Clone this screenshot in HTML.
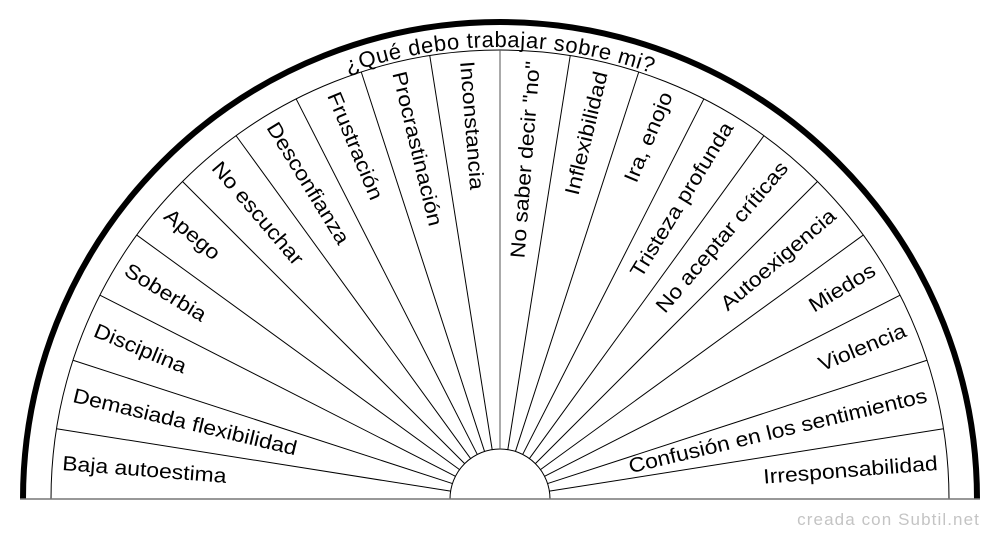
<!DOCTYPE html>
<html><head><meta charset="utf-8"><style>
body{margin:0;background:#fff;width:1000px;height:540px;overflow:hidden}
svg{display:block;font-family:"Liberation Sans",sans-serif}
</style></head><body>
<svg id="s" width="1000" height="540" viewBox="0 0 1000 540">
<defs><path id="tp" d="M 48 499 A 452 452 0 0 1 952 499"/></defs>
<path d="M 23 499 A 477 477 0 0 1 977 499" fill="none" stroke="#000" stroke-width="6"/>
<path d="M 51 499 A 449 449 0 0 1 949 499" fill="none" stroke="#000" stroke-width="1"/>
<path d="M 450 499 A 50 50 0 0 1 550 499" fill="none" stroke="#000" stroke-width="1"/>
<line x1="20" y1="499" x2="980" y2="499" stroke="#777" stroke-width="1.5"/>
<text font-size="22" letter-spacing="0.6" text-anchor="middle"><textPath href="#tp" startOffset="50%">¿Qué debo trabajar sobre mi?</textPath></text>
<g id="g"></g>
<text x="980" y="525" font-size="17" letter-spacing="1.1" fill="#c4c4c4" text-anchor="end">creada con Subtil.net</text>
</svg>
<script>
var L=["Baja autoestima","Demasiada flexibilidad","Disciplina","Soberbia","Apego","No escuchar","Desconfianza","Frustración","Procrastinación","Inconstancia","No saber decir \"no\"","Inflexibilidad","Ira, enojo","Tristeza profunda","No aceptar críticas","Autoexigencia","Miedos","Violencia","Confusión en los sentimientos","Irresponsabilidad"];
var cx=500,cy=499,h="";
for(var i=1;i<20;i++){var a=i*9*Math.PI/180;
h+='<line x1="'+(cx-50*Math.cos(a))+'" y1="'+(cy-50*Math.sin(a))+'" x2="'+(cx-449*Math.cos(a))+'" y2="'+(cy-449*Math.sin(a))+'" stroke="'+(i==10?'#555':'#000')+'" stroke-width="1"/>';}
for(var i=0;i<20;i++){var t=4.5+9*i,a=t*Math.PI/180,r=439;
var x=cx-r*Math.cos(a),y=cy-r*Math.sin(a),rot,anc;
if(i<10){rot=t;anc="start";}else{rot=t-180;anc="end";}
h+='<g transform="translate('+x+' '+y+') rotate('+rot+') scale(1.12 1)"><text x="0" y="0" font-size="20.5" dominant-baseline="middle" text-anchor="'+anc+'">'+L[i].replace(/"/g,'&quot;')+'</text></g>';}
document.getElementById("g").innerHTML=h;
</script>
</body></html>
